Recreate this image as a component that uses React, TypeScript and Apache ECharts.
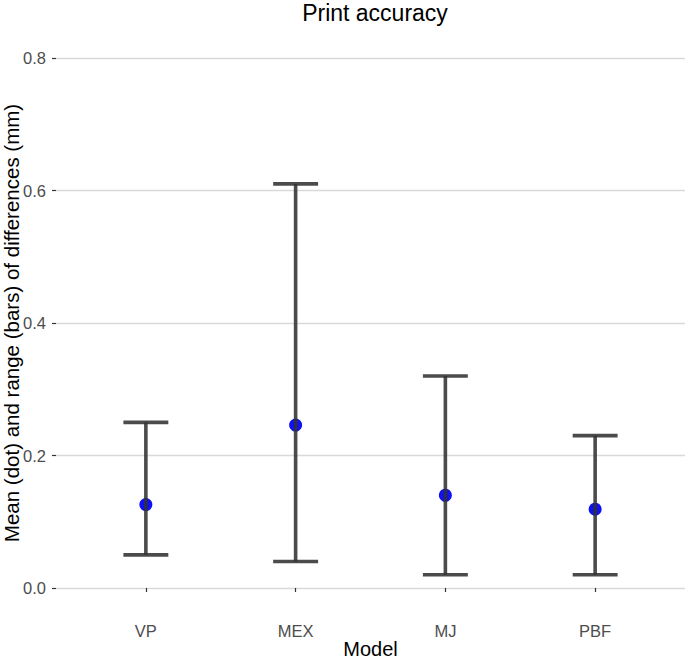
import React, { useEffect, useRef } from "react";
import * as echarts from "echarts";

const categories = ["VP", "MEX", "MJ", "PBF"];
const means = [0.126, 0.246, 0.14, 0.119];
const mins = [0.05, 0.04, 0.02, 0.02];
const maxs = [0.25, 0.61, 0.32, 0.23];

const FONT = "Liberation Sans, Arial, Helvetica, sans-serif";

export default function App() {
  const ref = useRef<HTMLDivElement>(null);
  useEffect(() => {
    document.body.style.margin = "0";
    const chart = echarts.init(ref.current!, null, { renderer: "svg" });
    const pos = categories.map((_, i) => i + 1);
    chart.setOption({
      animation: false,
      backgroundColor: "#ffffff",
      textStyle: { fontFamily: FONT },
      title: {
        text: "Print accuracy",
        left: 370,
        textAlign: "center",
        top: -4,
        textStyle: { fontFamily: FONT, fontSize: 23, fontWeight: "normal", color: "#000" },
      },
      grid: { left: 56, right: 0, top: 58, bottom: 71, containLabel: false, outerBoundsMode: "none" },
      xAxis: {
        type: "value",
        min: 0.4,
        max: 4.6,
        offset: 26.5,
        name: "Model",
        nameLocation: "middle",
        nameGap: 26,
        nameMoveOverlap: false,
        nameTextStyle: { fontFamily: FONT, fontSize: 20, lineHeight: 17, color: "#000" },
        axisLine: { show: false },
        splitLine: { show: false },
        axisTick: { show: true, customValues: pos, length: 4, lineStyle: { color: "#333", width: 1.2 } },
        axisLabel: {
          customValues: pos,
          formatter: (v: number) => categories[Math.round(v) - 1] ?? "",
          fontFamily: FONT,
          fontSize: 16.5,
          color: "#4d4d4d",
          margin: 8,
        },
      },
      yAxis: {
        type: "value",
        min: 0,
        max: 0.8,
        interval: 0.2,
        name: "Mean (dot) and range (bars) of differences (mm)",
        nameLocation: "middle",
        nameGap: 35,
        nameMoveOverlap: false,
        nameTextStyle: { fontFamily: FONT, fontSize: 20.5, lineHeight: 20, color: "#000" },
        axisLine: { show: false },
        axisTick: { show: true, length: 4, lineStyle: { color: "#333", width: 1.2 } },
        axisLabel: {
          formatter: (v: number) => v.toFixed(1),
          fontFamily: FONT,
          fontSize: 16.5,
          color: "#4d4d4d",
          margin: 10,
        },
        splitLine: { show: true, lineStyle: { color: "#d9d9d9", width: 1.4 } },
      },
      series: [
        {
          type: "scatter",
          data: pos.map((p, i) => [p, means[i]]),
          symbolSize: 13,
          itemStyle: { color: "#1010f0", opacity: 1 },
          z: 2,
        },
        {
          type: "custom",
          z: 3,
          data: pos.map((p, i) => [p, mins[i], maxs[i]]),
          encode: { x: 0, y: [1, 2] },
          renderItem: (params: any, api: any) => {
            const x = api.value(0);
            const lo = api.coord([x, api.value(1)]);
            const hi = api.coord([x, api.value(2)]);
            const half = api.size([0.15, 0])[0];
            const style = { stroke: "rgba(50,50,50,0.88)", lineWidth: 3.6 };
            return {
              type: "group",
              children: [
                { type: "line", shape: { x1: lo[0], y1: lo[1], x2: hi[0], y2: hi[1] }, style },
                { type: "line", shape: { x1: hi[0] - half, y1: hi[1], x2: hi[0] + half, y2: hi[1] }, style },
                { type: "line", shape: { x1: lo[0] - half, y1: lo[1], x2: lo[0] + half, y2: lo[1] }, style },
              ],
            };
          },
        },
      ],
    });
    return () => chart.dispose();
  }, []);
  return <div ref={ref} style={{ width: 685, height: 659 }} />;
}
